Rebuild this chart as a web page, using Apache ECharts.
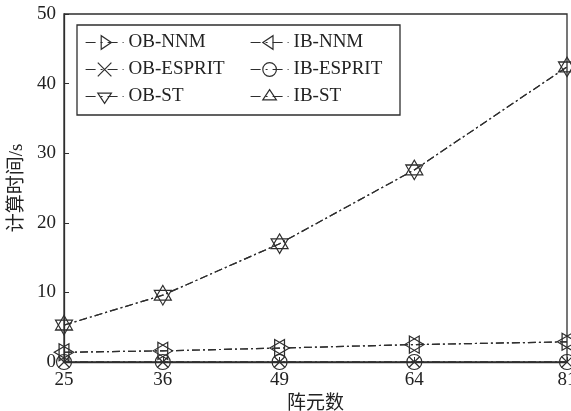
<!DOCTYPE html>
<html>
<head>
<meta charset="utf-8">
<script src="https://cdn.jsdelivr.net/npm/echarts@6/dist/echarts.min.js"></script>
<style>
  html, body { margin: 0; padding: 0; background: #fff; }
  #chart { width: 571px; height: 411px; }
</style>
</head>
<body>
<div id="chart"></div>
<script>
// Array sizes (number of elements) on the x axis
const elementCounts = [25, 36, 49, 64, 81];
const xTickValues = [25, 36, 49, 64, 81];
const yTickValues = [0, 10, 20, 30, 40, 50];

// Computation time in seconds for each method
const obNNM = [1.4, 1.6, 2.0, 2.5, 2.9];
const ibNNM = [1.4, 1.6, 2.0, 2.5, 2.9];
const obESPRIT = [0, 0, 0, 0, 0];
const ibESPRIT = [0, 0, 0, 0, 0];
const obST = [5.3, 9.6, 17.0, 27.6, 42.4];
const ibST = [5.3, 9.6, 17.0, 27.6, 42.4];

const seriesNames = ['OB-NNM', 'OB-ESPRIT', 'OB-ST', 'IB-NNM', 'IB-ESPRIT', 'IB-ST'];

const ink = '#2e2e2e';
const textInk = '#222';
const serif = '"Liberation Serif", "Times New Roman", "Noto Sans CJK SC", serif';

// Triangle centred on its centroid so that opposite triangles form a star
const tri = 'path://M0,-2L1.732,1L-1.732,1ZM0,2';
const cross = 'path://M0,0L1,1M1,0L0,1';

function pairs(vals) {
  return elementCounts.map((x, i) => [x, vals[i]]);
}

function makeSeries(name, vals, symbol, size, rotate) {
  return {
    name: name,
    type: 'line',
    data: pairs(vals),
    symbol: symbol,
    symbolSize: size,
    symbolRotate: rotate,
    clip: false,
    lineStyle: { color: ink, width: 1.2, type: [8, 3, 2, 3] },
    itemStyle: { color: 'rgba(255,255,255,0)', borderColor: ink, borderWidth: 1.2 },
    emphasis: { disabled: true }
  };
}

const series = [
  makeSeries('OB-NNM', obNNM, tri, [17, 19.6], -90),
  makeSeries('OB-ESPRIT', obESPRIT, cross, 11, 0),
  makeSeries('OB-ST', obST, tri, [17, 19.6], 180),
  makeSeries('IB-NNM', ibNNM, tri, [17, 19.6], 90),
  makeSeries('IB-ESPRIT', ibESPRIT, 'circle', 15, 0),
  makeSeries('IB-ST', ibST, tri, [17, 19.6], 0)
];

const legendCommon = {
  orient: 'vertical',
  top: 33,
  padding: 0,
  itemWidth: 38,
  itemHeight: 17,
  itemGap: 8,
  itemTextGap: 7,
  lineStyle: { color: ink, width: 1.2, type: [10, 5, 2, 5] },
  itemStyle: { color: 'rgba(255,255,255,0)', borderColor: ink, borderWidth: 1.2 },
  textStyle: { fontFamily: serif, fontSize: 19, color: textInk },
  selectedMode: false
};

const chart = echarts.init(document.getElementById('chart'), null, { renderer: 'canvas' });
chart.setOption({
  animation: false,
  backgroundColor: '#fff',
  grid: {
    left: 64, right: 4, top: 14, bottom: 49,
    outerBoundsMode: 'none',
    containLabel: false,
    show: true, borderColor: ink, borderWidth: 1.3, backgroundColor: 'transparent'
  },
  legend: [
    Object.assign({ left: 85, data: seriesNames.slice(0, 3) }, legendCommon),
    Object.assign({ left: 250, data: seriesNames.slice(3) }, legendCommon)
  ],
  graphic: [{
    type: 'rect',
    shape: { x: 77, y: 25, width: 323, height: 90 },
    style: { fill: 'none', stroke: ink, lineWidth: 1.3 },
    silent: true
  }],
  xAxis: {
    type: 'value',
    min: 25, max: 81,
    name: '阵元数',
    nameLocation: 'middle',
    nameGap: 31,
    nameTextStyle: { fontFamily: serif, fontSize: 19, color: textInk },
    axisLine: { lineStyle: { color: ink, width: 1.3 } },
    axisTick: { inside: true, length: 5, customValues: xTickValues, lineStyle: { color: ink } },
    axisLabel: { customValues: xTickValues, fontFamily: serif, fontSize: 19, color: textInk, margin: 9 },
    splitLine: { show: false }
  },
  yAxis: {
    type: 'value',
    min: 0, max: 50, interval: 10,
    name: '计算时间/s',
    nameLocation: 'middle',
    nameGap: 28,
    nameTextStyle: { fontFamily: serif, fontSize: 19, color: textInk },
    axisLine: { show: true, lineStyle: { color: ink, width: 1.3 } },
    axisTick: { inside: true, length: 5, lineStyle: { color: ink } },
    axisLabel: { customValues: yTickValues, fontFamily: serif, fontSize: 19, color: textInk, margin: 8 },
    splitLine: { show: false }
  },
  series: series
});
</script>
</body>
</html>
